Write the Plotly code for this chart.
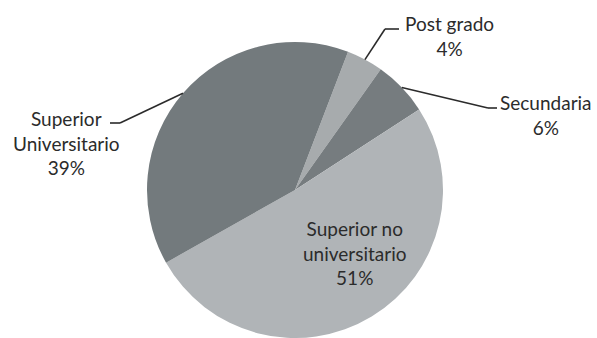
import math
import plotly.graph_objects as go

# Nivel educativo: distribución porcentual
categorias = ["Post grado", "Secundaria", "Superior no universitario", "Superior Universitario"]
porcentajes = [4, 6, 51, 39]
etiquetas = ["Post grado", "Secundaria", "Superior no<br>universitario", "Superior<br>Universitario"]
colores = ["#a7abad", "#767c7f", "#b0b4b7", "#737a7d"]

W, H = 597, 338
CX, CY, R = 295, 190, 148          # pie centre and radius in pixels
ROT = 21                           # start angle, degrees clockwise from 12 o'clock


def paper(x, y):
    return x / W, 1 - y / H


fig = go.Figure(go.Pie(
    labels=categorias,
    values=porcentajes,
    sort=False,
    direction="clockwise",
    rotation=ROT,
    marker=dict(colors=colores, line=dict(width=0)),
    textinfo="none",
    hoverinfo="label+percent",
    domain=dict(x=[(CX - R) / W, (CX + R) / W], y=[(H - CY - R) / H, (H - CY + R) / H]),
    showlegend=False,
))

# label block centres and leader elbows (pixels); None = label drawn inside its slice
layout_etq = {
    "Post grado": dict(pos=(449, 36), elbow=[(385, 29), (399, 29)]),
    "Secundaria": dict(pos=(546, 115), elbow=[(488, 108), (497, 108)]),
    "Superior no universitario": dict(pos=(355, 253), elbow=None),
    "Superior Universitario": dict(pos=(66, 143), elbow=[(120, 123), (110, 123)]),
}

total = sum(porcentajes)
angulo = ROT
annotations, shapes = [], []
for cat, val, etq in zip(categorias, porcentajes, etiquetas):
    mid = math.radians(angulo + 180 * val / total)
    angulo += 360 * val / total
    cfg = layout_etq[cat]
    x, y = paper(*cfg["pos"])
    annotations.append(dict(
        x=x, y=y, xref="paper", yref="paper", showarrow=False,
        text=f"{etq}<br>{round(100 * val / total)}%",
        font=dict(family="Lato, 'Open Sans', sans-serif", size=19, color="#2b2b2b"),
        xanchor="center", yanchor="middle", align="center",
    ))
    if cfg["elbow"]:
        pts = [(CX + R * math.sin(mid), CY - R * math.cos(mid))] + cfg["elbow"]
        for (x0, y0), (x1, y1) in zip(pts[:-1], pts[1:]):
            a0, b0 = paper(x0, y0)
            a1, b1 = paper(x1, y1)
            shapes.append(dict(type="line", xref="paper", yref="paper",
                               x0=a0, y0=b0, x1=a1, y1=b1,
                               line=dict(color="#2b2b2b", width=1.6)))

fig.update_layout(
    width=W, height=H,
    margin=dict(l=0, r=0, t=0, b=0),
    paper_bgcolor="white", plot_bgcolor="white",
    annotations=annotations, shapes=shapes,
)

fig.write_html("out.html")
